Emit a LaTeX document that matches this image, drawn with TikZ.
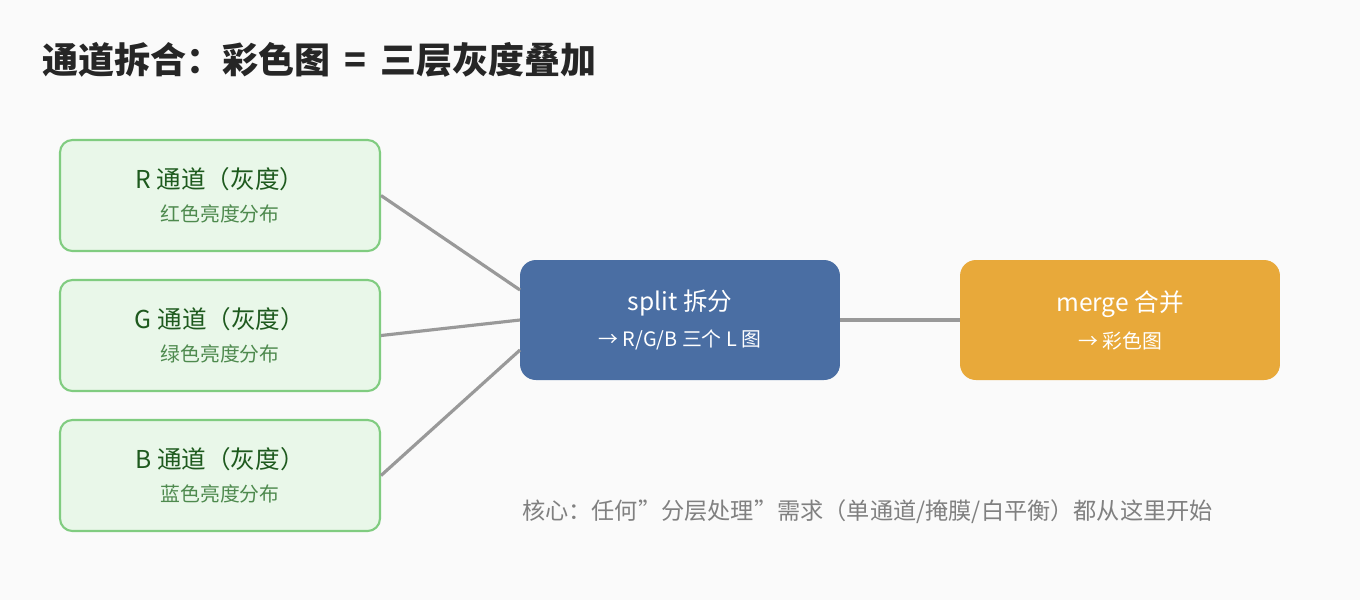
\documentclass[tikz,border=0pt]{standalone}
\usepackage{fontspec}
\setmainfont{Noto Sans CJK SC}
\usetikzlibrary{positioning}
\definecolor{bgc}{HTML}{FAFAFA}
\definecolor{chfill}{HTML}{E9F7E9}
\definecolor{chdraw}{HTML}{80CC80}
\definecolor{chtext}{HTML}{1E5A1E}
\definecolor{chsub}{HTML}{4E8A4E}
\definecolor{splitc}{HTML}{4A6EA3}
\definecolor{mergec}{HTML}{E8A93A}
\definecolor{linec}{HTML}{999999}
\tikzset{
  chan/.style={draw=chdraw, fill=chfill, line width=1.2pt, rounded corners=7pt,
    minimum width=6.4cm, minimum height=2.22cm, align=center, text=chtext},
  op/.style={rounded corners=9pt, minimum width=6.4cm, minimum height=2.4cm,
    align=center, text=white},
  link/.style={draw=linec, line width=1.8pt},
}
\begin{document}
\begin{tikzpicture}[x=0.02cm, y=-0.02cm]
\fill[bgc] (0,0) rectangle (1360,600);
\useasboundingbox (0,0) rectangle (1360,600);

%Title
\node[anchor=west, font=\fontsize{20.5}{24}\selectfont\bfseries, text=black!85] (title) at (36,60) {通道拆合：彩色图 \,=\, 三层灰度叠加};

%Channels
\node[chan] (R) at (220,195.5) {\fontsize{14}{16}\selectfont R 通道（灰度）\\[7pt]{\fontsize{11.3}{14}\selectfont\color{chsub}红色亮度分布}};
\node[chan] (G) at (220,335.5) {\fontsize{14}{16}\selectfont G 通道（灰度）\\[7pt]{\fontsize{11.3}{14}\selectfont\color{chsub}绿色亮度分布}};
\node[chan] (B) at (220,475.5) {\fontsize{14}{16}\selectfont B 通道（灰度）\\[7pt]{\fontsize{11.3}{14}\selectfont\color{chsub}蓝色亮度分布}};

%Operations
\node[op, fill=splitc] (split) at (680,320) {\fontsize{14}{16}\selectfont split 拆分\\[7pt]{\fontsize{11.3}{14}\selectfont → R/G/B 三个 L 图}};
\node[op, fill=mergec] (merge) at (1120,320) {\fontsize{14}{16}\selectfont merge 合并\\[7pt]{\fontsize{11.3}{14}\selectfont → 彩色图}};

%Connectors
\coordinate (sR) at (520,290);
\coordinate (sG) at (520,320);
\coordinate (sB) at (520,350);
\draw[link] (R.east) -- (sR);
\draw[link] (G.east) -- (sG);
\draw[link] (B.east) -- (sB);
\draw[link] (split) -- (merge);

%Note
\node[anchor=west, font=\fontsize{13.2}{15}\selectfont, text=black!50] (note) at (516,512) {核心：任何\symbol{34}分层处理\symbol{34}需求（单通道/掩膜/白平衡）都从这里开始};
\end{tikzpicture}
\end{document}
